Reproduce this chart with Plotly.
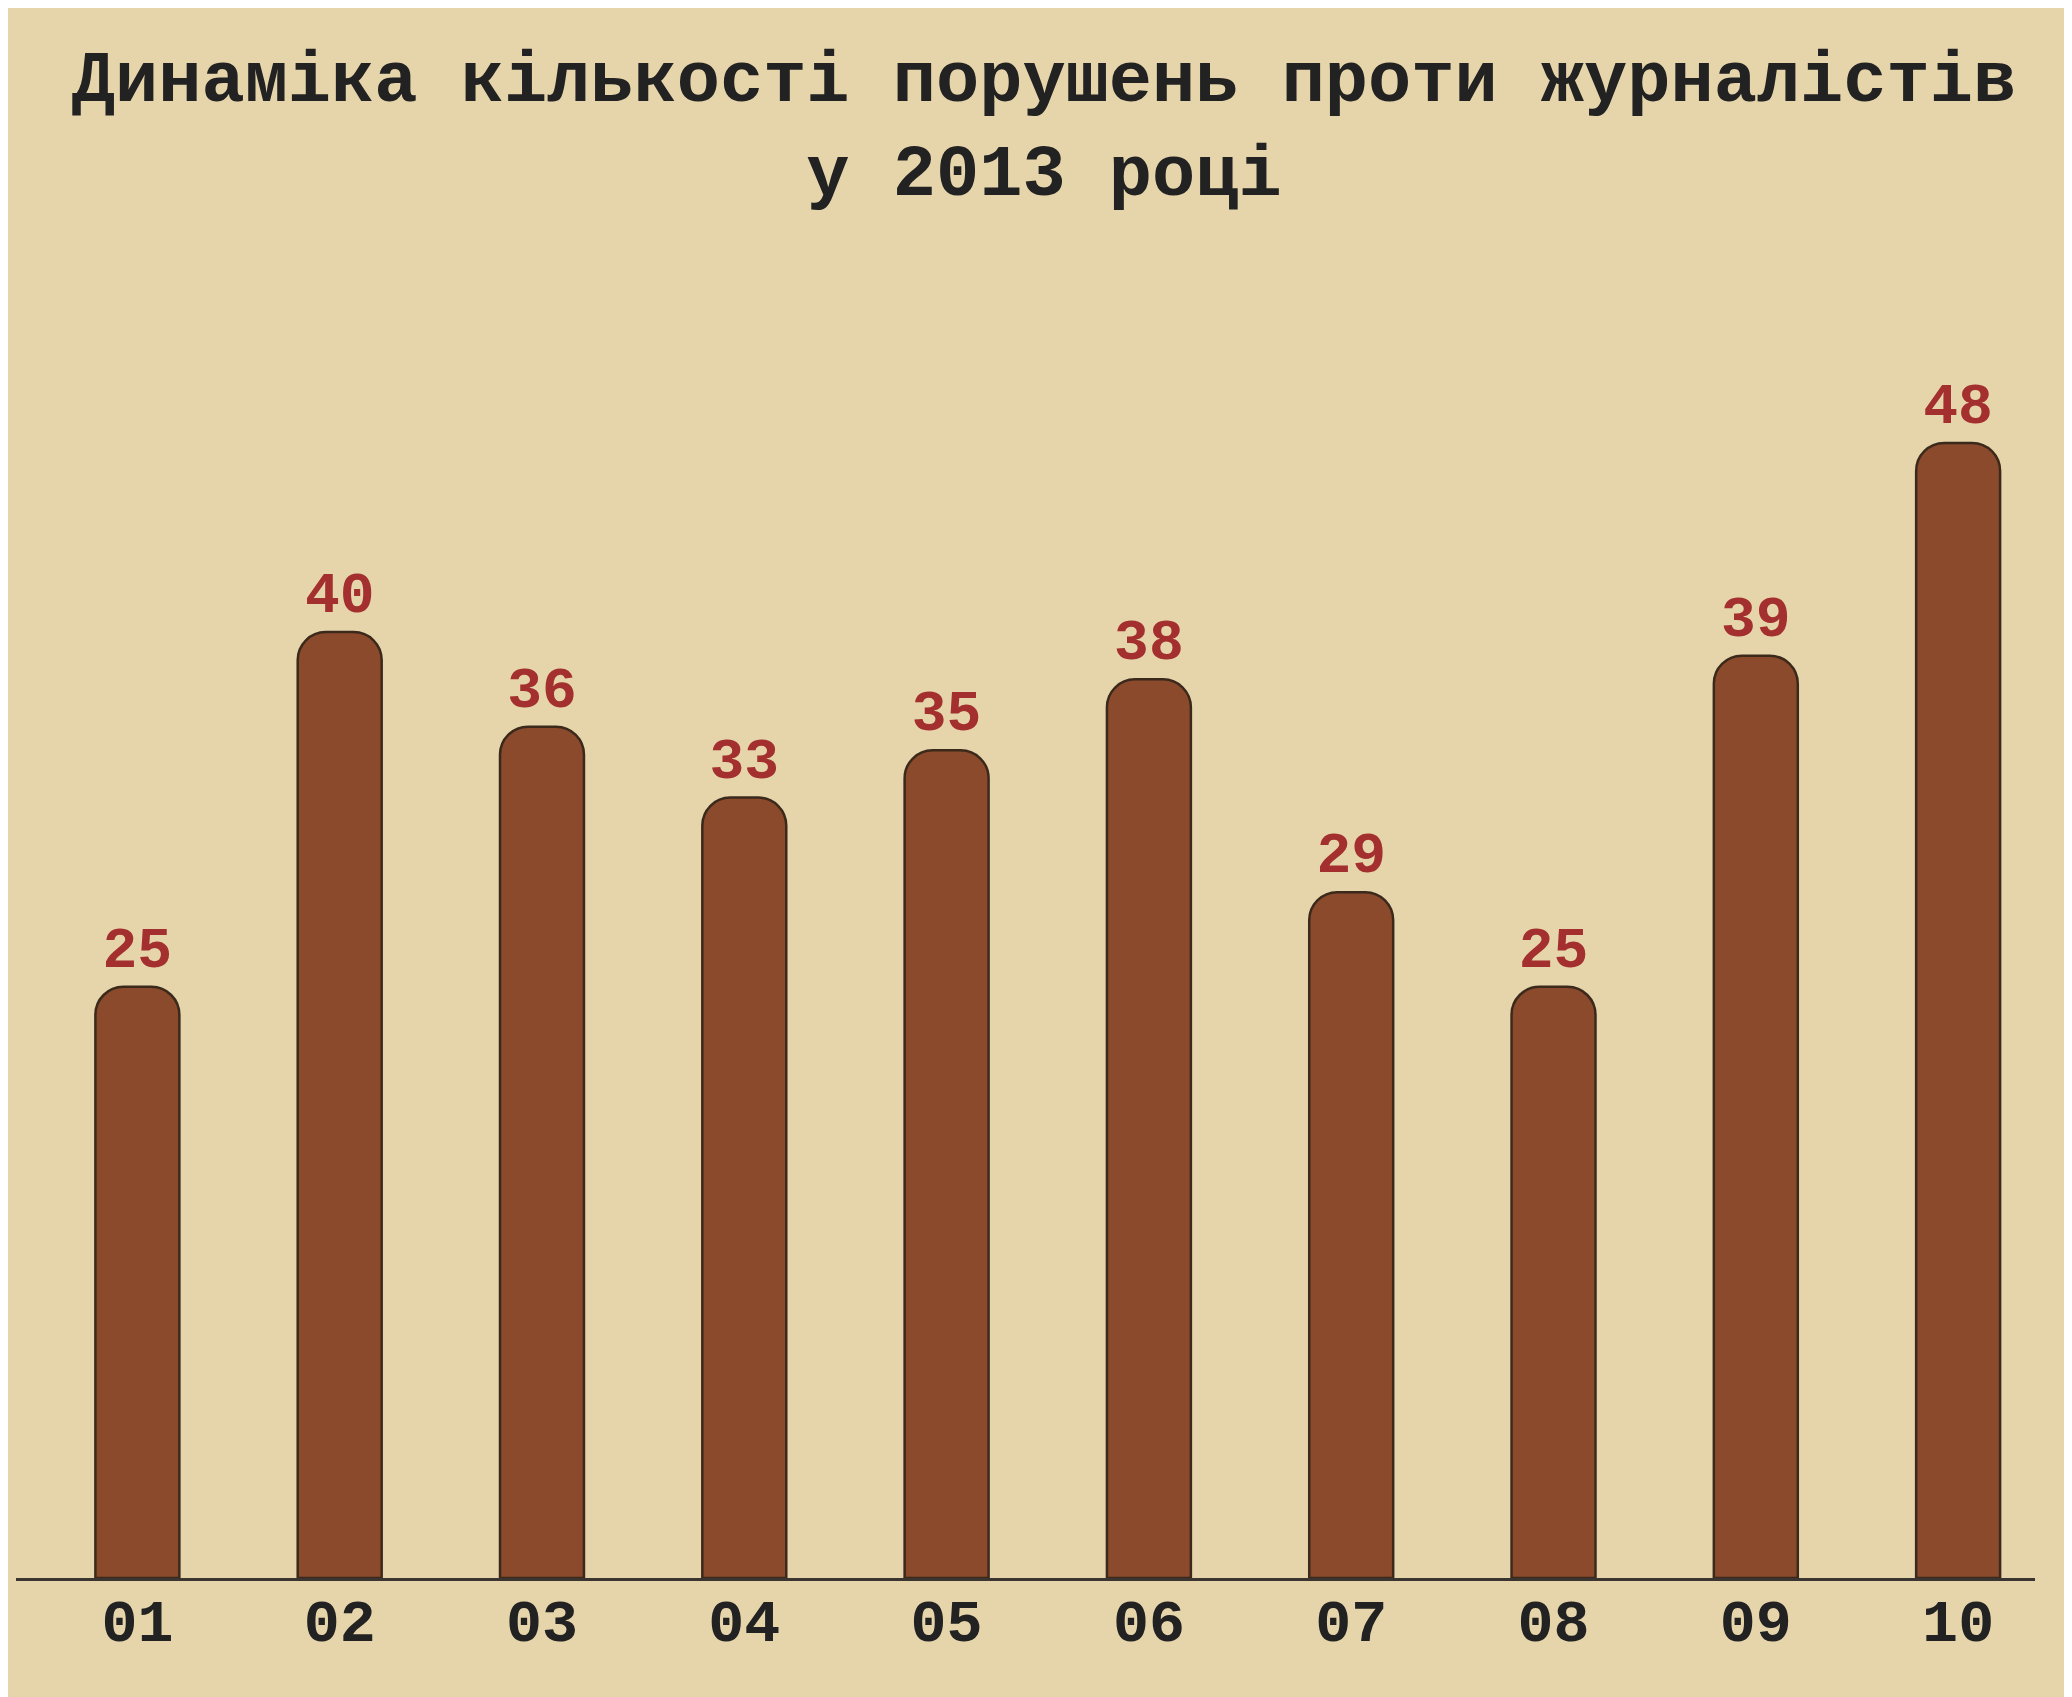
import plotly.graph_objects as go

months = ["01", "02", "03", "04", "05", "06", "07", "08", "09", "10"]
violations = [25, 40, 36, 33, 35, 38, 29, 25, 39, 48]

title_text = "Динаміка кількості порушень проти журналістів<br>у 2013 році"

FONT = "Courier New, Liberation Mono, monospace"
BG = "#e6d5aa"

fig = go.Figure(go.Bar(
    x=months,
    y=violations,
    width=0.415,
    text=[str(v) for v in violations],
    textposition="outside",
    textfont=dict(family=FONT, size=58, color="#a3302e", weight="bold"),
    cliponaxis=False,
    marker=dict(color="#8b4a2b", line=dict(color="#3b2a1c", width=2.5), cornerradius=28),
))

fig.update_layout(
    width=2072,
    height=1697,
    paper_bgcolor=BG,
    plot_bgcolor=BG,
    showlegend=False,
    title=dict(
        text=title_text,
        font=dict(family=FONT, size=72, color="#222222", weight="bold"),
        x=0.5,
        xanchor="center",
        y=0.945,
        yanchor="top",
    ),
    margin=dict(l=8, r=45, t=293, b=127),
    xaxis=dict(
        range=[-0.6, 9.38],
        showline=True,
        linecolor="#3a3530",
        linewidth=3,
        showgrid=False,
        zeroline=False,
        ticks="",
        ticklabelstandoff=-12,
        tickfont=dict(family=FONT, size=60, color="#222222", weight="bold"),
    ),
    yaxis=dict(
        range=[0, 54],
        visible=False,
        showgrid=False,
        zeroline=False,
    ),
)

fig.write_html("out.html")
